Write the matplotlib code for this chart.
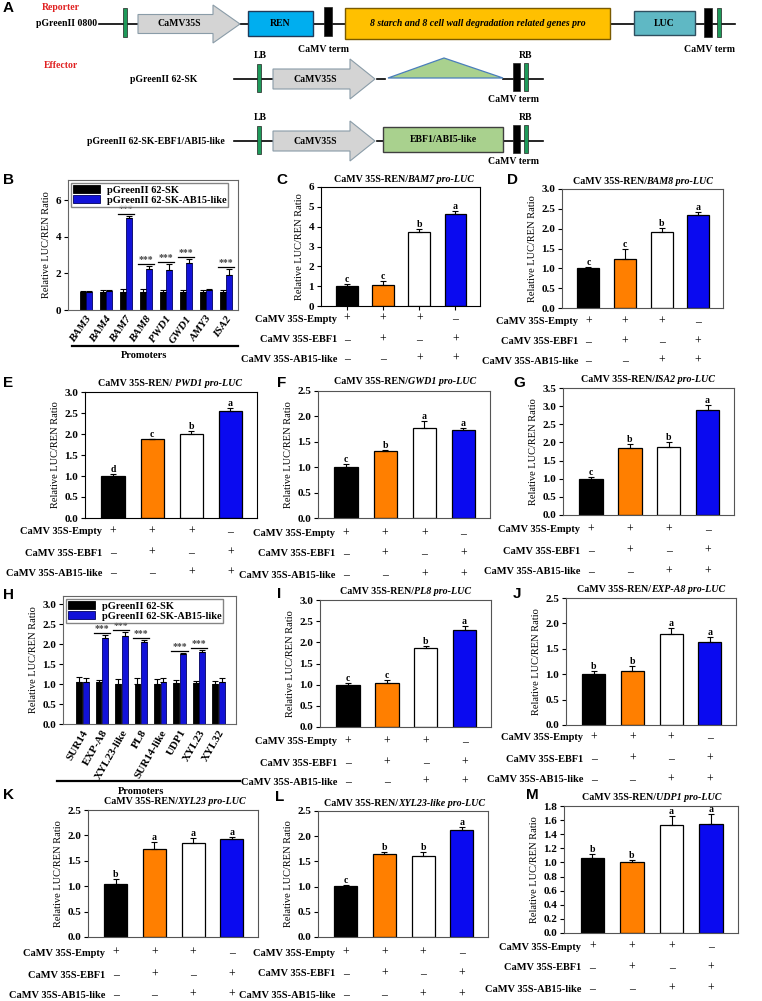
import numpy as np
import matplotlib
matplotlib.use("Agg")
import matplotlib.pyplot as plt
from matplotlib.patches import Rectangle, Polygon
from matplotlib.ticker import FormatStrFormatter

W, H = 762, 1001
plt.rcParams["font.family"] = "Liberation Serif"
plt.rcParams["font.weight"] = "bold"
plt.rcParams["font.size"] = 7
plt.rcParams["axes.linewidth"] = 0.8

# ---- data ----
row_names = ["CaMV 35S-Empty", "CaMV 35S-EBF1", "CaMV 35S-AB15-like"]
row_signs = [["+", "+", "+", "\u2013"],
             ["\u2013", "+", "\u2013", "+"],
             ["\u2013", "\u2013", "+", "+"]]
bar_colors = ["black", "#FF7F00", "white", "#0A0AF0"]

b_genes = ["BAM3", "BAM4", "BAM7", "BAM8", "PWD1", "GWD1", "AMY3", "ISA2"]
b_sk = [1.0, 1.0, 1.0, 1.0, 1.0, 1.0, 1.0, 1.0]
b_sk_err = [0.05, 0.08, 0.12, 0.12, 0.1, 0.1, 0.1, 0.08]
b_abi = [1.0, 1.05, 5.0, 2.25, 2.2, 2.55, 1.1, 1.9]
b_abi_err = [0.04, 0.05, 0.15, 0.15, 0.3, 0.25, 0.05, 0.35]
b_stars = [False, False, True, True, True, True, False, True]

h_genes = ["SUR14", "EXP-A8", "XYL23-like", "PL8", "SUR14-like", "UDP1", "XYL23", "XYL32"]
h_sk = [1.05, 1.05, 1.0, 1.0, 1.0, 1.02, 1.03, 1.0]
h_sk_err = [0.13, 0.05, 0.12, 0.15, 0.12, 0.07, 0.05, 0.07]
h_abi = [1.05, 2.15, 2.2, 2.05, 1.05, 1.75, 1.8, 1.05]
h_abi_err = [0.1, 0.08, 0.1, 0.05, 0.1, 0.03, 0.05, 0.1]
h_stars = [False, True, True, True, False, True, True, False]

bam7_mean = [1.0, 1.07, 3.75, 4.65]
bam7_err = [0.12, 0.2, 0.15, 0.15]
bam7_sig = ["c", "c", "b", "a"]
bam8_mean = [1.0, 1.23, 1.92, 2.35]
bam8_err = [0.03, 0.25, 0.1, 0.08]
bam8_sig = ["c", "c", "b", "a"]
pwd1_mean = [1.0, 1.87, 2.0, 2.55]
pwd1_err = [0.05, 0.02, 0.07, 0.08]
pwd1_sig = ["d", "c", "b", "a"]
gwd1_mean = [1.0, 1.32, 1.78, 1.73]
gwd1_err = [0.06, 0.02, 0.12, 0.04]
gwd1_sig = ["c", "b", "a", "a"]
isa2_mean = [1.0, 1.85, 1.88, 2.9]
isa2_err = [0.04, 0.1, 0.13, 0.12]
isa2_sig = ["c", "b", "b", "a"]
pl8_mean = [1.0, 1.03, 1.87, 2.3]
pl8_err = [0.05, 0.07, 0.05, 0.08]
pl8_sig = ["c", "c", "b", "a"]
expa8_mean = [1.01, 1.06, 1.8, 1.63]
expa8_err = [0.06, 0.11, 0.11, 0.1]
expa8_sig = ["b", "b", "a", "a"]
xyl23_mean = [1.04, 1.73, 1.85, 1.92]
xyl23_err = [0.1, 0.14, 0.09, 0.04]
xyl23_sig = ["b", "a", "a", "a"]
xyl23l_mean = [1.01, 1.64, 1.6, 2.12]
xyl23l_err = [0.03, 0.05, 0.08, 0.07]
xyl23l_sig = ["c", "b", "b", "a"]
udp1_mean = [1.06, 1.0, 1.53, 1.55]
udp1_err = [0.06, 0.04, 0.13, 0.13]
udp1_sig = ["b", "b", "a", "a"]

fig = plt.figure(figsize=(W / 100, H / 100), dpi=100)


def add_ax(box):
    l, t, r, b = box
    return fig.add_axes([l / W, 1 - b / H, (r - l) / W, (b - t) / H])


def style_axes(ax, spine):
    for s in ax.spines.values():
        s.set_color(spine)
    ax.tick_params(axis="y", direction="out", length=3, width=0.8, pad=2, labelsize=8)


def cond_panel(box, mean, err, sig, ymax, step, fmt, rows, spine="#555"):
    ax = add_ax(box)
    x = np.arange(1, 5)
    ax.bar(x, mean, 0.6, color=bar_colors, edgecolor="black", linewidth=0.9,
           yerr=[np.zeros(4), err],
           error_kw=dict(ecolor="black", elinewidth=0.8, capsize=2.5, capthick=0.8))
    for xi, v, e, s in zip(x, mean, err, sig):
        ax.text(xi, v + e, s, ha="center", va="bottom", fontsize=7)
    ax.set_xlim(0.28, 4.68)
    ax.set_ylim(0, ymax)
    ax.set_yticks(np.arange(0, ymax + 1e-9, step))
    ax.yaxis.set_major_formatter(FormatStrFormatter(fmt))
    ax.set_xticks([])
    ax.set_ylabel("Relative LUC/REN Ratio", labelpad=3, fontsize=7.5)
    style_axes(ax, spine)
    l, t, r, b = box
    tr = ax.get_xaxis_transform()
    for name, signs, ypx in zip(row_names, row_signs, rows):
        yf = (b - ypx) / (b - t)
        ax.text(0.72, yf, name, transform=tr, ha="right", va="center", fontsize=7.5, clip_on=False)
        for xi, s in zip(x, signs):
            ax.text(xi, yf, s, transform=tr, ha="center", va="center", fontsize=8.5,
                    fontweight="normal", clip_on=False)
    return ax


def group_panel(box, genes, sk, sk_err, abi, abi_err, stars, ymax, yticks, fmt, xlim,
                rot, italic, offset):
    ax = add_ax(box)
    g = np.arange(len(genes))
    ekw = dict(ecolor="black", elinewidth=0.8, capsize=2, capthick=0.8)
    b1 = ax.bar(g - 0.17, sk, 0.3, color="black", edgecolor="black", linewidth=0.6,
                yerr=[np.zeros(len(g)), sk_err], error_kw=ekw, label="pGreenII 62-SK")
    b2 = ax.bar(g + 0.17, abi, 0.3, color="#1212D8", edgecolor="#000060", linewidth=0.6,
                yerr=[np.zeros(len(g)), abi_err], error_kw=ekw, label="pGreenII 62-SK-AB15-like")
    for gi, a, ae, s, e, st in zip(g, abi, abi_err, sk, sk_err, stars):
        if st:
            y = max(a + ae, s + e) + offset
            ax.plot([gi - 0.42, gi + 0.42], [y, y], color="black", lw=0.9)
            ax.text(gi, y, "***", ha="center", va="bottom", color="#444", fontsize=7)
    ax.set_xlim(*xlim)
    ax.set_ylim(0, ymax)
    ax.set_yticks(yticks)
    ax.yaxis.set_major_formatter(FormatStrFormatter(fmt))
    ax.set_xticks(g)
    ax.set_xticklabels(genes, rotation=rot, ha="right", rotation_mode="anchor",
                       style="italic" if italic else "normal", fontsize=8)
    ax.tick_params(axis="x", length=0, pad=3)
    ax.set_ylabel("Relative LUC/REN Ratio", labelpad=3, fontsize=7.5)
    style_axes(ax, "#666")
    ax.legend(handles=[b1, b2], loc="upper left", frameon=True, fancybox=False,
              edgecolor="#666", fontsize=7.5, handlelength=2.6, handleheight=0.8,
              borderpad=0.2, labelspacing=0.05, handletextpad=0.6, borderaxespad=0.3)
    return ax


# ---- B and H ----
group_panel((68, 180, 238, 310), b_genes, b_sk, b_sk_err, b_abi, b_abi_err, b_stars,
            7.1, [0, 2, 4, 6], "%d", (-0.9, 7.6), 55, True, 0.12)
group_panel((63, 596, 236, 724), h_genes, h_sk, h_sk_err, h_abi, h_abi_err, h_stars,
            3.2, np.arange(0, 3.01, 0.5), "%.1f", (-1.0, 7.9), 60, False, 0.05)

# ---- condition panels ----
axC = cond_panel((321, 187, 480, 306), bam7_mean, bam7_err, bam7_sig, 6, 1, "%d", (319, 340, 359), "black")
axC.set_xticks([1, 2, 3, 4])
axC.set_xticklabels([])
axC.tick_params(axis="x", length=3, direction="out")
cond_panel((562, 189, 723, 308), bam8_mean, bam8_err, bam8_sig, 3.0, 0.5, "%.1f", (322, 342, 361))
cond_panel((85, 392, 257, 518), pwd1_mean, pwd1_err, pwd1_sig, 3.0, 0.5, "%.1f", (532, 553, 573), "black")
cond_panel((318, 391, 490, 518), gwd1_mean, gwd1_err, gwd1_sig, 2.5, 0.5, "%.1f", (534, 554, 575))
cond_panel((563, 388, 734, 515), isa2_mean, isa2_err, isa2_sig, 3.5, 0.5, "%.1f", (530, 551, 572))
cond_panel((320, 600, 491, 727), pl8_mean, pl8_err, pl8_sig, 3.0, 0.5, "%.1f", (742, 763, 782))
cond_panel((566, 598, 736, 725), expa8_mean, expa8_err, expa8_sig, 2.5, 0.5, "%.1f", (738, 759, 780))
cond_panel((88, 810, 258, 937), xyl23_mean, xyl23_err, xyl23_sig, 2.5, 0.5, "%.1f", (953, 975, 995))
cond_panel((318, 811, 488, 937), xyl23l_mean, xyl23l_err, xyl23l_sig, 2.5, 0.5, "%.1f", (953, 974, 995))
cond_panel((564, 806, 738, 933), udp1_mean, udp1_err, udp1_sig, 1.8, 0.2, "%.1f", (947, 968, 989))

# ---- overlay for diagram, titles, panel letters ----
ov = fig.add_axes([0, 0, 1, 1])
ov.set_xlim(0, W)
ov.set_ylim(H, 0)
ov.axis("off")
ov.patch.set_alpha(0)

letters = [("A", 8, 8), ("B", 8, 180), ("C", 282, 180), ("D", 513, 180), ("E", 8, 383),
           ("F", 282, 383), ("G", 519, 383), ("H", 8, 595), ("I", 279, 594), ("J", 517, 594),
           ("K", 8, 795), ("L", 280, 797), ("M", 532, 795)]
for s, x, y in letters:
    ov.text(x, y, s, family="Liberation Sans", fontweight="bold", fontsize=11, ha="center", va="center")

titles = [(404, 179, "CaMV 35S-REN/", "BAM7 pro-LUC"),
          (643, 182, "CaMV 35S-REN/", "BAM8 pro-LUC"),
          (170, 383, "CaMV 35S-REN/ ", "PWD1 pro-LUC"),
          (405, 382, "CaMV 35S-REN/", "GWD1 pro-LUC"),
          (648, 379, "CaMV 35S-REN/", "ISA2 pro-LUC"),
          (405, 592, "CaMV 35S-REN/", "PL8 pro-LUC"),
          (651, 590, "CaMV 35S-REN/", "EXP-A8 pro-LUC"),
          (175, 802, "CaMV 35S-REN/", "XYL23 pro-LUC"),
          (405, 803, "CaMV 35S-REN/", "XYL23-like pro-LUC"),
          (652, 798, "CaMV 35S-REN/", "UDP1 pro-LUC")]
title_parts = []
for cx, cy, pre, it in titles:
    t1 = ov.text(cx, cy, pre, ha="left", va="center", fontsize=7.2)
    t2 = ov.text(cx, cy, it, ha="left", va="center", fontsize=7.2, style="italic")
    title_parts.append((cx, t1, t2))

# promoters lines
for x0, x1, y, xt, yt in [(72, 238, 346, 144, 356), (57, 240, 781, 141, 791)]:
    ov.plot([x0, x1], [y, y], color="black", lw=1.6)
    ov.text(xt, yt, "Promoters", ha="center", va="center", fontsize=7.5)

# ---- panel A diagram ----
green = "#1E9A5A"
gray_fill = "#D4D4D4"
gray_edge = "#8A9CA8"


def arrow(x0, x1, cy, hb, hh, head):
    pts = [(x0, cy - hb), (x1 - head, cy - hb), (x1 - head, cy - hh), (x1, cy),
           (x1 - head, cy + hh), (x1 - head, cy + hb), (x0, cy + hb)]
    ov.add_patch(Polygon(pts, closed=True, fc=gray_fill, ec=gray_edge, lw=0.8, zorder=3))
    ov.text((x0 + x1 - head) / 2 + 4, cy, "CaMV35S", ha="center", va="center", fontsize=7, zorder=4)


def vbar(x, y0, y1, w, c):
    ov.add_patch(Rectangle((x - w / 2, y0), w, y1 - y0, fc=c, ec="#222", lw=0.5, zorder=4))


def box(x0, x1, y0, y1, fc, ec, label, italic=False):
    ov.add_patch(Rectangle((x0, y0), x1 - x0, y1 - y0, fc=fc, ec=ec, lw=1.0, zorder=3))
    ov.text((x0 + x1) / 2, (y0 + y1) / 2, label, ha="center", va="center", fontsize=7,
            style="italic" if italic else "normal", zorder=4)


# reporter row
ov.text(61, 7, "Reporter", color="#E02020", ha="center", va="center", fontsize=7)
ov.text(97, 24, "pGreenII 0800", ha="right", va="center", fontsize=7)
ov.plot([99, 735], [24, 24], color="black", lw=1.2, zorder=2)
vbar(125, 8, 37, 4, green)
arrow(138, 240, 24, 9.5, 19, 27)
box(248, 313, 11, 36, "#00AEEF", "#1F3A5A", "REN")
vbar(328, 7, 36, 8, "black")
box(345, 610, 8, 39, "#FFC000", "#7A5A00", "8 starch and 8 cell wall degradation related genes pro", True)
box(634, 695, 11, 35, "#5FB8C4", "#2F4F5F", "LUC")
vbar(708, 8, 37, 8, "black")
vbar(719, 8, 37, 4, green)
ov.text(323, 49, "CaMV term", ha="center", va="center", fontsize=7)
ov.text(709, 49, "CaMV term", ha="center", va="center", fontsize=7)

# effector rows
ov.text(61, 65, "Effector", color="#E02020", ha="center", va="center", fontsize=7)
for cy, lx, label in [(79, 197, "pGreenII 62-SK"), (141, 225, "pGreenII 62-SK-EBF1/ABI5-like")]:
    ov.text(lx, cy, label, ha="right", va="center", fontsize=7)
    ov.plot([234, 273], [cy, cy], color="black", lw=1.2, zorder=2)
    ov.plot([377, 385], [cy, cy], color="black", lw=1.2, zorder=2)
    ov.plot([503, 543], [cy, cy], color="black", lw=1.2, zorder=2)
    vbar(259, cy - 15, cy + 13, 4, green)
    ov.text(260, cy - 24, "LB", ha="center", va="center", fontsize=7)
    arrow(273, 375, cy, 10, 20, 25)
    vbar(516, cy - 16, cy + 12, 7, "black")
    vbar(526, cy - 16, cy + 12, 3.5, green)
    ov.text(526, cy - 24, "RB", ha="center", va="center", fontsize=7)
    ov.text(514, cy + 21, "CaMV term", ha="center", va="center", fontsize=7)
ov.add_patch(Polygon([(388, 78), (444, 58), (503, 78)], closed=True, fc="#A9D18E",
                     ec="#4A7EBB", lw=0.9, zorder=3))
box(383, 503, 127, 152, "#A9D18E", "#3F3F3F", "EBF1/ABI5-like")

# center the two-style titles
fig.canvas.draw()
rend = fig.canvas.get_renderer()
for cx, t1, t2 in title_parts:
    w1 = t1.get_window_extent(rend).width
    w2 = t2.get_window_extent(rend).width
    x0 = cx - (w1 + w2) / 2
    t1.set_x(x0)
    t2.set_x(x0 + w1)

fig.savefig("out.png", dpi=100)
